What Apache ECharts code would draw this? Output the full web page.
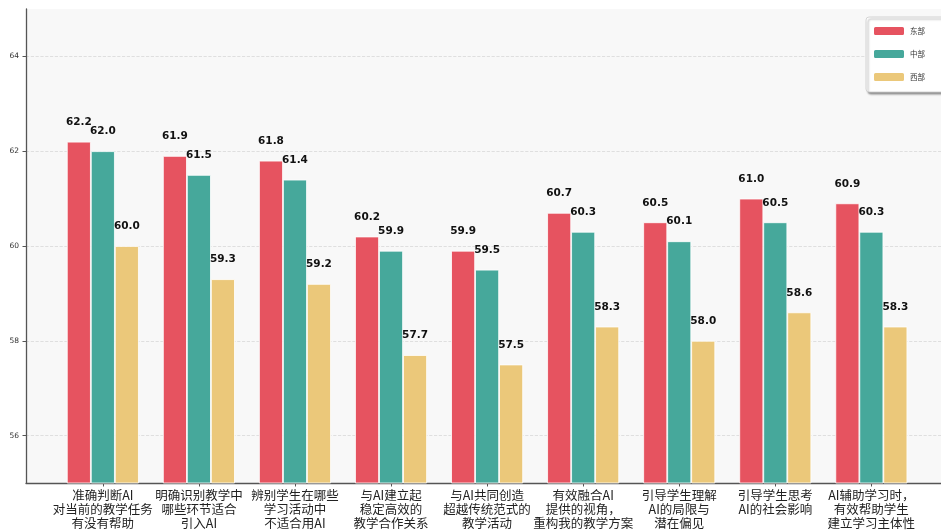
<!DOCTYPE html>
<html>
<head>
<meta charset="utf-8">
<script src="https://cdn.jsdelivr.net/npm/echarts@6/dist/echarts.min.js"></script>
<style>
html,body{margin:0;padding:0;background:#fff;}
#chart{width:941px;height:530px;}
</style>
</head>
<body>
<div id="chart"></div>
<script>
const categories = [
  '准确判断AI\n对当前的教学任务\n有没有帮助',
  '明确识别教学中\n哪些环节适合\n引入AI',
  '辨别学生在哪些\n学习活动中\n不适合用AI',
  '与AI建立起\n稳定高效的\n教学合作关系',
  '与AI共同创造\n超越传统范式的\n教学活动',
  '有效融合AI\n提供的视角，\n重构我的教学方案',
  '引导学生理解\nAI的局限与\n潜在偏见',
  '引导学生思考\nAI的社会影响',
  'AI辅助学习时，\n有效帮助学生\n建立学习主体性'
];
const seriesNames = ['东部', '中部', '西部'];
const east = [62.2, 61.9, 61.8, 60.2, 59.9, 60.7, 60.5, 61.0, 60.9];
const central = [62.0, 61.5, 61.4, 59.9, 59.5, 60.3, 60.1, 60.5, 60.3];
const west = [60.0, 59.3, 59.2, 57.7, 57.5, 58.3, 58.0, 58.6, 58.3];
const yTicks = [56, 58, 60, 62, 64];
const colors = ['#E65360', '#46A89B', '#EBC87A'];

const catIdx = categories.map((c, i) => i);
const allValues = [east, central, west];

const chart = echarts.init(document.getElementById('chart'));
chart.setOption({
  animation: false,
  backgroundColor: '#ffffff',
  grid: {
    left: 26, right: 0, top: 9, bottom: 45,
    show: true, backgroundColor: '#f8f8f8', borderWidth: 0
  },
  legend: {
    orient: 'vertical',
    left: 866, top: 17,
    padding: [8, 24, 9, 6],
    itemWidth: 32, itemHeight: 10, itemGap: 11, itemTextGap: 14,
    backgroundColor: '#ffffff',
    borderColor: '#cccccc', borderWidth: 0.8, borderRadius: 3,
    shadowColor: 'rgba(0,0,0,0.4)', shadowBlur: 2, shadowOffsetX: 2, shadowOffsetY: 2,
    textStyle: { fontFamily: 'Noto Sans CJK SC', fontSize: 7.5, color: '#333' },
    data: seriesNames
  },
  xAxis: {
    type: 'value',
    min: -0.8, max: 8.725,
    axisLine: { show: true, onZero: false, lineStyle: { color: '#555', width: 1.3 } },
    axisTick: { show: true, customValues: catIdx, length: 3.5, lineStyle: { color: '#555' } },
    splitLine: { show: false },
    axisLabel: {
      customValues: catIdx,
      formatter: v => categories[Math.round(v)] || '',
      fontFamily: 'Noto Sans CJK SC', fontSize: 12.5, lineHeight: 14,
      color: '#222', margin: 5, verticalAlign: 'top'
    }
  },
  yAxis: {
    type: 'value',
    min: 55, max: 65,
    axisLine: { show: true, onZero: false, lineStyle: { color: '#555', width: 1.3 } },
    axisTick: { show: true, customValues: yTicks, length: 3.5, lineStyle: { color: '#555' } },
    splitLine: { show: true, lineStyle: { color: '#d8d8d8', type: 'dashed', width: 0.8 } },
    axisLabel: {
      customValues: yTicks,
      fontFamily: 'DejaVu Sans', fontSize: 7.5, color: '#333', margin: 7
    }
  },
  series: seriesNames.map((name, s) => ({
    name: name,
    type: 'bar',
    barWidth: 24,
    barGap: '0%',
    itemStyle: { color: colors[s], borderColor: '#ffffff', borderWidth: 0.8 },
    label: {
      show: true, position: 'top', distance: 14,
      fontFamily: 'DejaVu Sans', fontWeight: 'bold', fontSize: 10.5, color: '#111',
      formatter: p => p.value[1].toFixed(1)
    },
    data: allValues[s].map((v, i) => [catIdx[i], v])
  }))
});
</script>
</body>
</html>
